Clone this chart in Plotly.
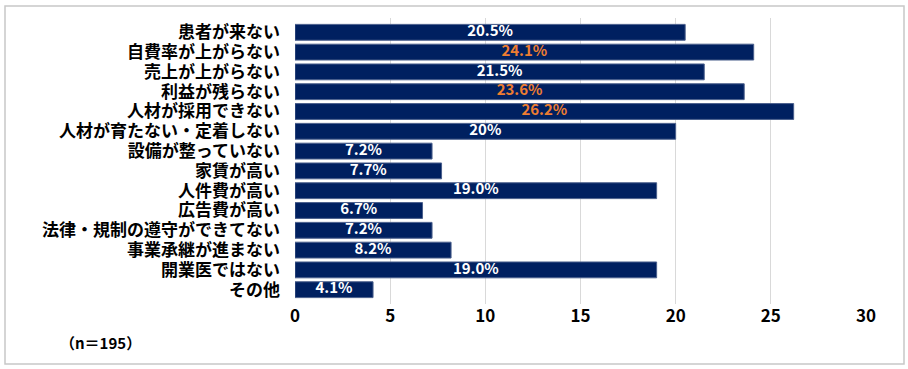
import plotly.graph_objects as go

categories = ["患者が来ない", "自費率が上がらない", "売上が上がらない", "利益が残らない",
              "人材が採用できない", "人材が育たない・定着しない", "設備が整っていない",
              "家賃が高い", "人件費が高い", "広告費が高い", "法律・規制の遵守ができてない",
              "事業承継が進まない", "開業医ではない", "その他"]
values = [20.5, 24.1, 21.5, 23.6, 26.2, 20, 7.2, 7.7, 19.0, 6.7, 7.2, 8.2, 19.0, 4.1]
labels = ["20.5%", "24.1%", "21.5%", "23.6%", "26.2%", "20%", "7.2%", "7.7%",
          "19.0%", "6.7%", "7.2%", "8.2%", "19.0%", "4.1%"]
highlight = ["自費率が上がらない", "利益が残らない", "人材が採用できない"]
x_ticks = [0, 5, 10, 15, 20, 25, 30]

NAVY = "#002060"
ORANGE = "#ED7D31"
FONT = "Noto Sans CJK JP"

text_colors = [ORANGE if c in highlight else "white" for c in categories]

fig = go.Figure()
fig.add_trace(go.Bar(
    y=categories, x=values, orientation="h",
    marker=dict(color=NAVY, line=dict(color="#4a5f8c", width=1)),
    width=0.8, hoverinfo="skip",
))
fig.add_trace(go.Scatter(
    y=categories, x=[v / 2 for v in values], mode="text", text=labels,
    textposition="middle center",
    textfont=dict(family=FONT, size=15, color=text_colors, weight="bold"),
    hoverinfo="skip", cliponaxis=False,
))

W, H = 908, 369
L, R, T, B = 295, 42, 18, 65
pw, ph = W - L - R, H - T - B

fig.update_layout(
    width=W, height=H,
    margin=dict(l=L, r=R, t=T, b=B, autoexpand=False),
    paper_bgcolor="white", plot_bgcolor="white",
    showlegend=False,
    font=dict(family=FONT, size=17, color="black"),
    xaxis=dict(range=[0, 30], tickvals=x_ticks, showgrid=True, gridcolor="#d9d9d9",
               gridwidth=1, zeroline=False, showline=False, ticks="", automargin=False,
               tickfont=dict(family=FONT, size=17, color="black", weight="bold")),
    yaxis=dict(autorange="reversed", showgrid=False, ticks="", ticklabelstandoff=14,
               automargin=False, tickmode="array", tickvals=categories,
               ticktext=categories,
               tickfont=dict(family=FONT, size=17, color="black", weight="bold")),
    shapes=[dict(type="rect", xref="paper", yref="paper",
                 x0=(5 - L) / pw, x1=(904 - L) / pw,
                 y0=(H - B - 364) / ph, y1=(H - B - 6) / ph,
                 line=dict(color="#c8c8c8", width=1.5), layer="below")],
    annotations=[dict(text="（n＝195）", xref="paper", yref="paper",
                      x=(58 - L) / pw, y=(H - B - 343) / ph, xanchor="left", yanchor="middle",
                      showarrow=False,
                      font=dict(family=FONT, size=15, color="black", weight="bold"))],
)

fig.write_html("out.html", config={"displayModeBar": False},
               post_script="document.body.style.margin='0';document.body.style.padding='0';")
